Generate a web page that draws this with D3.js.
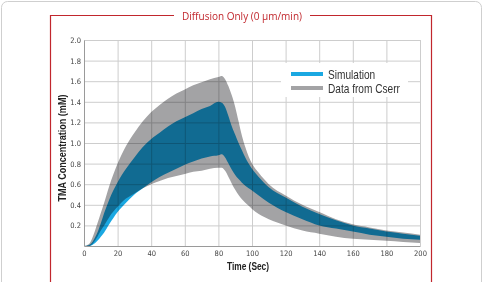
<!DOCTYPE html>
<html>
<head>
<meta charset="utf-8">
<script src="https://cdn.jsdelivr.net/npm/d3@7"></script>
<style>
  body { margin: 0; background: #fff; }
  svg { display: block; }
  .tick text { font-family: "DejaVu Sans Condensed", sans-serif; font-size: 7.5px; fill: #444; }
</style>
</head>
<body>
<div id="chart"></div>
<script>
// time points (sec)
const time      = [0, 3, 5, 8, 10, 12, 15, 20, 25, 30, 35, 40, 45, 50, 55, 60, 65, 70, 75, 80, 82, 84, 86, 88, 90, 92, 94, 96, 98, 100, 104, 110, 120, 130, 140, 150, 160, 170, 180, 190, 200];
// simulation band (mM)
const simUpper  = [0, 0.01, 0.04, 0.13, 0.22, 0.32, 0.45, 0.62, 0.75, 0.86, 0.96, 1.04, 1.10, 1.16, 1.21, 1.25, 1.29, 1.33, 1.36, 1.40, 1.39, 1.35, 1.26, 1.16, 1.08, 1.00, 0.93, 0.86, 0.80, 0.75, 0.67, 0.57, 0.47, 0.38, 0.31, 0.25, 0.20, 0.17, 0.14, 0.12, 0.10];
const simLower  = [0, 0, 0.01, 0.05, 0.09, 0.13, 0.21, 0.33, 0.42, 0.50, 0.56, 0.62, 0.67, 0.71, 0.75, 0.79, 0.82, 0.85, 0.87, 0.88, 0.89, 0.86, 0.80, 0.74, 0.69, 0.65, 0.615, 0.585, 0.56, 0.54, 0.49, 0.42, 0.33, 0.26, 0.20, 0.17, 0.14, 0.11, 0.09, 0.07, 0.06];
// experimental band, data from Cserr (mM)
const dataUpper = [0, 0.02, 0.08, 0.22, 0.32, 0.42, 0.58, 0.80, 0.97, 1.10, 1.21, 1.30, 1.37, 1.43, 1.48, 1.52, 1.56, 1.59, 1.62, 1.64, 1.65, 1.62, 1.55, 1.46, 1.35, 1.21, 1.07, 0.96, 0.87, 0.80, 0.71, 0.60, 0.49, 0.40, 0.33, 0.26, 0.21, 0.18, 0.15, 0.13, 0.11];
const dataLower = [0, 0, 0.02, 0.09, 0.15, 0.20, 0.28, 0.38, 0.46, 0.51, 0.56, 0.60, 0.63, 0.66, 0.68, 0.70, 0.72, 0.73, 0.75, 0.76, 0.76, 0.73, 0.67, 0.605, 0.545, 0.495, 0.455, 0.42, 0.39, 0.36, 0.31, 0.26, 0.20, 0.15, 0.12, 0.09, 0.07, 0.06, 0.05, 0.04, 0.03];

const xTicks = [0, 20, 40, 60, 80, 100, 120, 140, 160, 180, 200];
const yTicks = [0.2, 0.4, 0.6, 0.8, 1.0, 1.2, 1.4, 1.6, 1.8, 2.0];
const legendItems = ['Simulation', 'Data from Cserr'];

const W = 483, H = 282;
const red = '#c1272d';
const sans = 'Liberation Sans, Arial, sans-serif';

const svg = d3.select('#chart').append('svg').attr('width', W).attr('height', H);

// text squeezed horizontally to mimic a narrow face
function narrowText(g, tx, ty, sx, rot) {
  return g.append('text')
    .attr('transform', `translate(${tx},${ty})${rot ? ` rotate(${rot})` : ''} scale(${sx},1)`)
    .attr('font-family', sans);
}

// outer frame
svg.append('rect').attr('x', 1.5).attr('y', 1.5).attr('width', W - 3).attr('height', H + 10)
  .attr('rx', 6).attr('fill', '#fff').attr('stroke', '#cfcfcf');

// red box with title in gap
const title = svg.append('text').attr('x', 242).attr('y', 19.5).attr('text-anchor', 'middle')
  .attr('font-family', 'Open Sans, sans-serif').attr('font-size', 10).attr('fill', red)
  .text('Diffusion Only (0 \u03bcm/min)');
const tb = title.node().getBBox();
svg.append('path')
  .attr('d', `M${tb.x - 8},15.5 H50.5 V${H + 5} M${tb.x + tb.width + 8},15.5 H431.5 V${H + 5}`)
  .attr('fill', 'none').attr('stroke', red).attr('stroke-width', 1.2);

const x = d3.scaleLinear().domain([0, 200]).range([84, 420]);
const y = d3.scaleLinear().domain([0, 2]).range([246, 40]);

// grid
const grid = svg.append('g');
grid.selectAll('.vg').data(xTicks).join('line')
  .attr('x1', d => x(d) + 0.5).attr('x2', d => x(d) + 0.5).attr('y1', y(2)).attr('y2', y(0))
  .attr('stroke', '#cdcdcd').attr('stroke-width', 1);
grid.selectAll('.hg').data(yTicks).join('line')
  .attr('x1', x(0)).attr('x2', x(200)).attr('y1', d => y(d) + 0.5).attr('y2', d => y(d) + 0.5)
  .attr('stroke', '#cdcdcd').attr('stroke-width', 1);

const rows = time.map((t, i) => ({ t, su: simUpper[i], sl: simLower[i], du: dataUpper[i], dl: dataLower[i] }));

const dataArea = d3.area().curve(d3.curveMonotoneX)
  .x(d => x(d.t)).y0(d => y(d.dl)).y1(d => y(d.du));
const simArea = d3.area().curve(d3.curveMonotoneX)
  .x(d => x(d.t)).y0(d => y(d.sl)).y1(d => y(d.su));

svg.append('path').datum(rows).attr('d', dataArea)
  .attr('fill', '#a3a3a5').style('mix-blend-mode', 'multiply');
svg.append('path').datum(rows).attr('d', simArea)
  .attr('fill', '#1aa8e2').style('mix-blend-mode', 'multiply');

// axes
const xAxis = svg.append('g').attr('transform', `translate(0,${y(0)})`)
  .call(d3.axisBottom(x).tickValues(xTicks).tickSize(0).tickPadding(5));
xAxis.select('.domain').attr('stroke', '#9a9a9a');
const yAxis = svg.append('g').attr('transform', `translate(${x(0)},0)`)
  .call(d3.axisLeft(y).tickValues(yTicks).tickSize(0).tickPadding(3).tickFormat(d3.format('.1f')));
yAxis.select('.domain').attr('stroke', '#9a9a9a');

narrowText(svg, 248, 270, 0.76).attr('text-anchor', 'middle').attr('font-weight', 'bold')
  .attr('font-size', 11).attr('fill', '#222').text('Time (Sec)');
narrowText(svg, 66, 148, 0.82, -90).attr('text-anchor', 'middle').attr('font-weight', 'bold')
  .attr('font-size', 11).attr('fill', '#222').text('TMA Concentration (mM)');

// legend
const lg = svg.append('g');
lg.append('rect').attr('x', 281).attr('y', 63).attr('width', 127).attr('height', 34).attr('fill', '#fff');
const legColors = ['#1aa8e2', '#a3a3a5'];
legendItems.forEach((name, i) => {
  const ly = 74 + i * 14;
  lg.append('line').attr('x1', 291).attr('x2', 323).attr('y1', ly).attr('y2', ly)
    .attr('stroke', legColors[i]).attr('stroke-width', 4);
  narrowText(lg, 328, ly + 4.5, 0.81).attr('font-size', 12.5)
    .attr('fill', '#333').text(name);
});
</script>
</body>
</html>
